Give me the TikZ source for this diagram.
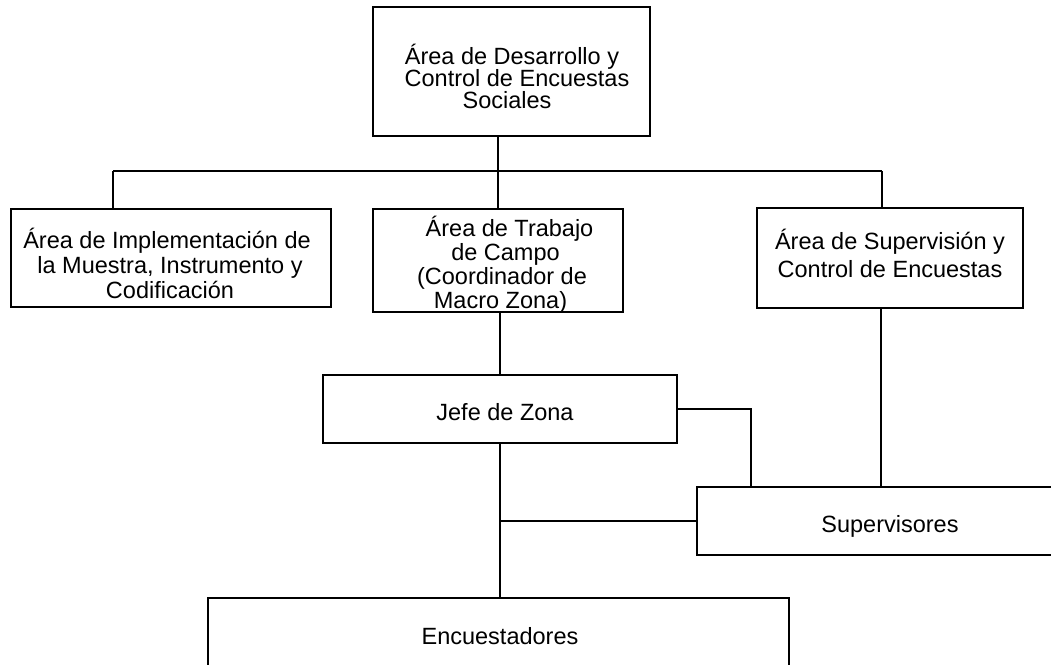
\documentclass[tikz,border=0pt]{standalone}
\usepackage{fontspec}
\setmainfont{Liberation Sans}
\begin{document}
\begin{tikzpicture}[x=1pt,y=-1pt,
  box/.style={draw, line width=1.2pt, inner sep=0pt},
  lbl/.style={font=\fontsize{23.5}{24}\selectfont, align=center, inner sep=0pt},
  conn/.style={line width=1.2pt}]
\useasboundingbox (0,0) rectangle (1051,664);
\clip (0,0) rectangle (1051,664);
% boxes
\node[box, minimum width=277pt, minimum height=129pt] (top) at (511.5,71.5) {};
\node[box, minimum width=320pt, minimum height=98pt] (left) at (171,258) {};
\node[box, minimum width=250pt, minimum height=103pt] (mid) at (498,260.5) {};
\node[box, minimum width=266pt, minimum height=100pt] (right) at (890,258) {};
\node[box, minimum width=354pt, minimum height=68pt] (jefe) at (500,409) {};
\node[box, minimum width=400pt, minimum height=68pt] (sup) at (897,521) {};
\node[box, minimum width=581pt, minimum height=110pt] (enc) at (498.5,653) {};
% labels
\node[lbl, font=\fontsize{23.5}{22}\selectfont] (ttop) at (512,76) {Área de Desarrollo y\\\hspace*{10pt}Control de Encuestas\\Sociales\hspace*{10pt}};
\node[lbl, font=\fontsize{23.5}{25}\selectfont] (tleft) at (170,263) {Área de Implementación de\hspace*{6pt}\\la Muestra, Instrumento y\\Codificación};
\node[lbl] (tmid) at (502,264.5) {\hspace*{15pt}Área de Trabajo\\\hspace*{7pt}de Campo\\(Coordinador de\hspace*{18pt}\\Macro Zona)\hspace*{3pt}};
\node[lbl, font=\fontsize{23.5}{28}\selectfont] (tright) at (890,253) {Área de Supervisión y\\Control de Encuestas};
\node[lbl] (tjefe) at (505,412) {Jefe de Zona};
\node[lbl] (tsup) at (890,526) {Supervisores};
\node[lbl] (tenc) at (500,636) {Encuestadores};
% connector coordinates
\coordinate (bL) at (113,171);
\coordinate (bM) at (498,171);
\coordinate (bR) at (882,171);
\coordinate (rs) at (881,0);
\coordinate (k) at (751,0);
% connectors
\draw[conn] (top.south -| bM) -- (bM);
\draw[conn] (bL) -- (bR);
\draw[conn] (bL) -- (bL |- left.north);
\draw[conn] (bM) -- (bM |- mid.north);
\draw[conn] (bR) -- (bR |- right.north);
\draw[conn] (jefe.north |- mid.south) -- (jefe.north);
\draw[conn] (right.south -| rs) -- (sup.north -| rs);
\draw[conn] (jefe.east) -| (sup.north -| k);
\draw[conn] (jefe.south) -- (enc.north -| jefe.south);
\draw[conn] (sup.west) -- (sup.west -| jefe.south);
\end{tikzpicture}
\end{document}
